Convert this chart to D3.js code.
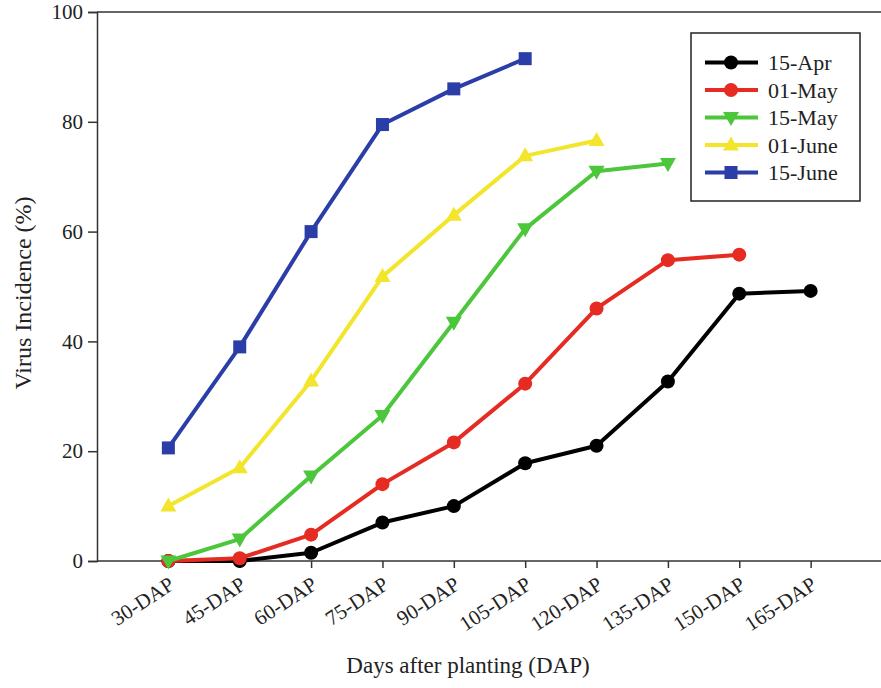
<!DOCTYPE html>
<html>
<head>
<meta charset="utf-8">
<title>Virus Incidence</title>
<script src="https://d3js.org/d3.v7.min.js"></script>
<style>
  body { margin: 0; background: #fff; }
  svg { display: block; font-family: "Liberation Serif", "DejaVu Serif", serif; }
</style>
</head>
<body>
<div id="chart"></div>
<script>
// categories on the x axis
var days = ["30-DAP", "45-DAP", "60-DAP", "75-DAP", "90-DAP", "105-DAP", "120-DAP", "135-DAP", "150-DAP", "165-DAP"];
var yTicks = [0, 20, 40, 60, 80, 100];

// series values (virus incidence %), one per sowing date
var apr15  = [0, 0, 1.5, 7, 10, 17.8, 21, 32.7, 48.7, 49.2];
var may01  = [0, 0.5, 4.8, 14, 21.6, 32.3, 46, 54.8, 55.8];
var may15  = [0, 4, 15.5, 26.5, 43.5, 60.5, 71, 72.4];
var june01 = [10, 17, 32.8, 51.8, 63, 73.8, 76.6];
var june15 = [20.6, 39, 60, 79.5, 86, 91.5];

var seriesNames = ["15-Apr", "01-May", "15-May", "01-June", "15-June"];
var seriesData = [apr15, may01, may15, june01, june15];
var colors = ["#000000", "#e52b22", "#4cc63b", "#f2e52b", "#2b3ea8"];
var symbols = ["circle", "circle", "down", "up", "square"];

var width = 881, height = 688;
var plotL = 97, plotR = 882, plotT = 12, plotB = 561;

var svg = d3.select("#chart").append("svg")
  .attr("width", width)
  .attr("height", height);

var x = d3.scalePoint().domain(days).range([plotL, plotR]).padding(1);
var y = d3.scaleLinear().domain([0, 100]).range([plotB, plotT]);

// top frame line
svg.append("line")
  .attr("x1", plotL).attr("x2", width)
  .attr("y1", plotT).attr("y2", plotT)
  .attr("stroke", "#333").attr("stroke-width", 1.5);

// y axis
var yAxis = svg.append("g")
  .attr("transform", "translate(" + plotL + ",0)")
  .call(d3.axisLeft(y).tickValues(yTicks).tickSize(9).tickPadding(5));
yAxis.select(".domain").attr("stroke", "#333").attr("stroke-width", 1.5);
yAxis.selectAll(".tick line").attr("stroke", "#333").attr("stroke-width", 1.5);
yAxis.selectAll("text").attr("font-size", 21).attr("fill", "#222")
  .attr("font-family", "Liberation Serif, serif");

// x axis
var xAxis = svg.append("g")
  .attr("transform", "translate(0," + plotB + ")")
  .call(d3.axisBottom(x).tickSize(7).tickSizeOuter(0));
xAxis.select(".domain").attr("d", "M" + plotL + ",0H" + width)
  .attr("stroke", "#333").attr("stroke-width", 1.5);
xAxis.selectAll(".tick line").attr("stroke", "#333").attr("stroke-width", 1.5);
xAxis.selectAll("text")
  .attr("font-size", 21).attr("fill", "#222")
  .attr("font-family", "Liberation Serif, serif")
  .attr("text-anchor", "end")
  .attr("dy", null).attr("y", 0)
  .attr("transform", "translate(7,27) rotate(-33)");

// axis titles
svg.append("text")
  .attr("x", 468).attr("y", 673)
  .attr("text-anchor", "middle")
  .attr("font-size", 23).attr("fill", "#222")
  .text("Days after planting (DAP)");

svg.append("text")
  .attr("transform", "translate(31,293) rotate(-90)")
  .attr("text-anchor", "middle")
  .attr("font-size", 24).attr("fill", "#222")
  .text("Virus Incidence (%)");

function drawMarker(g, type, color) {
  if (type === "circle") {
    g.append("circle").attr("r", 7).attr("fill", color);
  } else if (type === "square") {
    g.append("rect").attr("x", -6.5).attr("y", -6.5).attr("width", 13).attr("height", 13).attr("fill", color);
  } else if (type === "down") {
    g.append("path").attr("d", "M-8,-5.5L8,-5.5L0,8.5Z").attr("fill", color);
  } else {
    g.append("path").attr("d", "M-8,5.5L8,5.5L0,-8.5Z").attr("fill", color);
  }
}

var line = d3.line()
  .x(function(d, i) { return x(days[i]); })
  .y(function(d) { return y(d); });

seriesData.forEach(function(vals, s) {
  var g = svg.append("g");
  g.append("path")
    .attr("d", line(vals))
    .attr("fill", "none")
    .attr("stroke", colors[s])
    .attr("stroke-width", 4)
    .attr("stroke-linejoin", "round");
  vals.forEach(function(v, i) {
    var m = g.append("g").attr("transform", "translate(" + x(days[i]) + "," + y(v) + ")");
    drawMarker(m, symbols[s], colors[s]);
  });
});

// legend
var lg = svg.append("g").attr("transform", "translate(691,33)");
lg.append("rect")
  .attr("width", 169).attr("height", 168)
  .attr("fill", "#fff").attr("stroke", "#222").attr("stroke-width", 1.5);
seriesNames.forEach(function(name, s) {
  var row = lg.append("g").attr("transform", "translate(0," + (29.5 + s * 27.5) + ")");
  row.append("line")
    .attr("x1", 14).attr("x2", 67)
    .attr("stroke", colors[s]).attr("stroke-width", 4);
  var m = row.append("g").attr("transform", "translate(40,0)");
  drawMarker(m, symbols[s], colors[s]);
  row.append("text")
    .attr("x", 77).attr("y", 7.5)
    .attr("font-size", 22).attr("fill", "#222")
    .text(name);
});
</script>
</body>
</html>
